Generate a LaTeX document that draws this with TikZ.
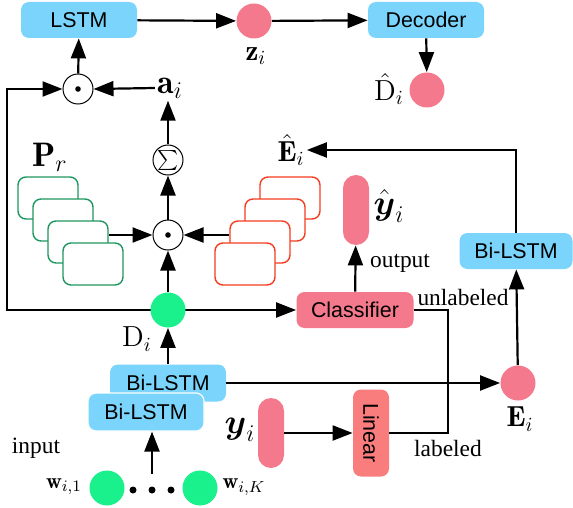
\documentclass[tikz,border=0pt]{standalone}
\usepackage{amssymb}
\usepackage{amsmath}
\usepackage{fontspec}
\setsansfont{Liberation Sans}
\newfontfamily\txtfont{Liberation Serif}
\usepackage{tikz}
\usetikzlibrary{arrows.meta,positioning,calc}
\pgfdeclarelayer{bg}
\pgfsetlayers{bg,main}

\definecolor{skyblue}{RGB}{122,212,252}
\definecolor{rosepink}{RGB}{245,121,140}
\definecolor{salmonred}{RGB}{250,125,125}
\definecolor{mintgreen}{RGB}{26,240,140}
\definecolor{stackgreen}{RGB}{30,150,95}
\definecolor{stackred}{RGB}{245,60,30}

\tikzset{
  arr/.style={line width=1.1pt, -{Triangle[length=10pt,width=7.5pt]}},
  line/.style={line width=1.1pt},
  blk/.style={rounded corners=4pt, minimum height=18pt, inner sep=0pt,
    font=\sffamily\fontsize{10.7}{12}\selectfont},
  lstm/.style={blk, fill=skyblue, minimum width=58pt},
  vec/.style={circle, minimum size=17.5pt, inner sep=0pt},
  op/.style={circle, draw, line width=0.5pt, minimum size=15pt, inner sep=0pt},
  pill/.style={fill=rosepink, rounded corners=6.5pt, minimum width=13pt, minimum height=35pt},
  card/.style={draw, fill=white, line width=0.7pt, rounded corners=4pt,
    minimum width=30pt, minimum height=21pt},
  lbl/.style={font=\fontsize{14.5}{16}\selectfont, inner sep=1pt},
  biglbl/.style={font=\fontsize{17}{19}\selectfont, inner sep=1pt},
  txt/.style={font=\txtfont\fontsize{11.7}{13}\selectfont, inner sep=1pt},
}

\begin{document}
\begin{tikzpicture}[x=0.5pt, y=-0.5pt]
    \useasboundingbox (0,0) rectangle (573,508);

    % decoder row
    \node [lstm] (lstm) at (79,20) {LSTM};
    \node [vec, fill=rosepink] (z) at (254,21) {};
    \node [lbl] (zlbl) at (256,56) {$\mathbf{z}_i$};
    \node [lstm] (decoder) at (426,20) {Decoder};
    \node [vec, fill=rosepink] (dhat) at (427,90) {};
    \node [lbl] (dhatlbl) at (389,89) {$\hat{\mathrm{D}}_i$};

    % attention
    \node [op] (prodtop) at (78,89) {};
    \fill (prodtop) circle (1.4pt);
    \node [biglbl] (ai) at (170,88) {$\mathbf{a}_i$};
    \node [op] (sum) at (168,160) {$\sum$};
    \node [op] (prodmid) at (168,235) {};
    \fill (prodmid) circle (1.4pt);
    \node [biglbl] (plbl) at (50,157) {$\mathbf{P}_r$};
    \node [lbl] (ehat) at (291,150) {$\hat{\mathbf{E}}_i$};

    \foreach \k/\x/\y in {1/48/198, 2/63/220, 3/78/242, 4/93/264}
        \node [card, draw=stackgreen] (p\k) at (\x,\y) {};
    \foreach \k/\x/\y in {1/290/198, 2/275/220, 3/260/242, 4/245/264}
        \node [card, draw=stackred] (e\k) at (\x,\y) {};

    % encoder and classifier
    \node [vec, fill=mintgreen] (di) at (168,310) {};
    \node [lbl] (dilbl) at (137,339) {$\mathrm{D}_i$};
    \node [blk, fill=rosepink, minimum width=58.5pt] (classifier) at (355,310) {Classifier};
    \node [pill] (yhat) at (356,210) {};
    \node [biglbl] (yhatlbl) at (389,206) {$\hat{\boldsymbol{y}}_i$};
    \node [txt] (outlbl) at (400,263) {output};
    \node [txt] (unlbl) at (463,297) {unlabeled};
    \node [txt] (lablbl) at (448,448) {labeled};

    \node [lstm, minimum width=56.5pt] (bilstmR) at (516,251) {Bi-LSTM};
    \node [vec, fill=rosepink] (ei) at (518,383) {};
    \node [lbl] (eilbl) at (520,419) {$\mathbf{E}_i$};

    \node [lstm, minimum height=18.5pt] (bilstmA) at (168,383) {Bi-LSTM};
    \node [lstm, draw=white, line width=0.6pt, minimum height=19pt] (bilstmB) at (146,412) {Bi-LSTM};

    \node [pill] (yi) at (271,433) {};
    \node [biglbl] (yilbl) at (240,430) {$\boldsymbol{y}_i$};
    \node [blk, fill=salmonred, minimum width=18pt, minimum height=43.5pt] (linear) at (371,433) {\rotatebox{-90}{Linear}};

    % input words
    \node [vec, fill=mintgreen] (w1) at (107,488) {};
    \node [vec, fill=mintgreen] (wK) at (200,488) {};
    \foreach \k/\x in {1/133, 2/152, 3/171}
        \node [circle, fill, inner sep=0pt, minimum size=3.5pt] (dot\k) at (\x,490) {};
    \node [font=\fontsize{11}{13}\selectfont, inner sep=1pt] (w1lbl) at (64,487) {$\mathbf{w}_{i,1}$};
    \node [font=\fontsize{11}{13}\selectfont, inner sep=1pt] (wKlbl) at (244,487) {$\mathbf{w}_{i,K}$};
    \node [txt] (inlbl) at (36,448) {input};

    \draw [arr] (lstm) -- (z);
    \draw [arr] (z) -- (decoder);
    \draw [arr] (decoder) -- (dhat);
    \draw [arr] (prodtop) -- (lstm);
    \draw [arr] (ai.west) -- (prodtop.east);
    \draw [arr] (sum.north) -- (sum.north |- ai.south);
    \draw [arr] (prodmid) -- (sum);
    \draw [arr] (di) -- (prodmid);
    \draw [arr] (prodmid -| p3.east) -- (prodmid.west);
    \draw [arr] (prodmid -| e3.west) -- (prodmid.east);
    \draw [arr] (bilstmA) -- (di);
    \draw [arr] (bilstmA.east) -- (bilstmA.east -| ei.west);
    \draw [arr] (ei) -- (bilstmR);
    \draw [arr] (bilstmR.north) |- (ehat.east);
    \draw [arr] (classifier) -- (yhat);
    \draw [arr] (yi) -- (linear);
    \draw [arr, shorten <=6pt] (dot2.north) -- (dot2 |- bilstmB.south);

    \coordinate (bend) at (448,433);
    \draw [line] (classifier.east) -| (bend) -- (linear.east);

    \begin{pgfonlayer}{bg}    % lines running under the D_i node
        \coordinate (loop) at (7,310);
        \draw [arr] (di.center) -- (loop) |- (prodtop.west);
        \draw [arr] (di.center) -- (classifier.west);
    \end{pgfonlayer}
\end{tikzpicture}
\end{document}
